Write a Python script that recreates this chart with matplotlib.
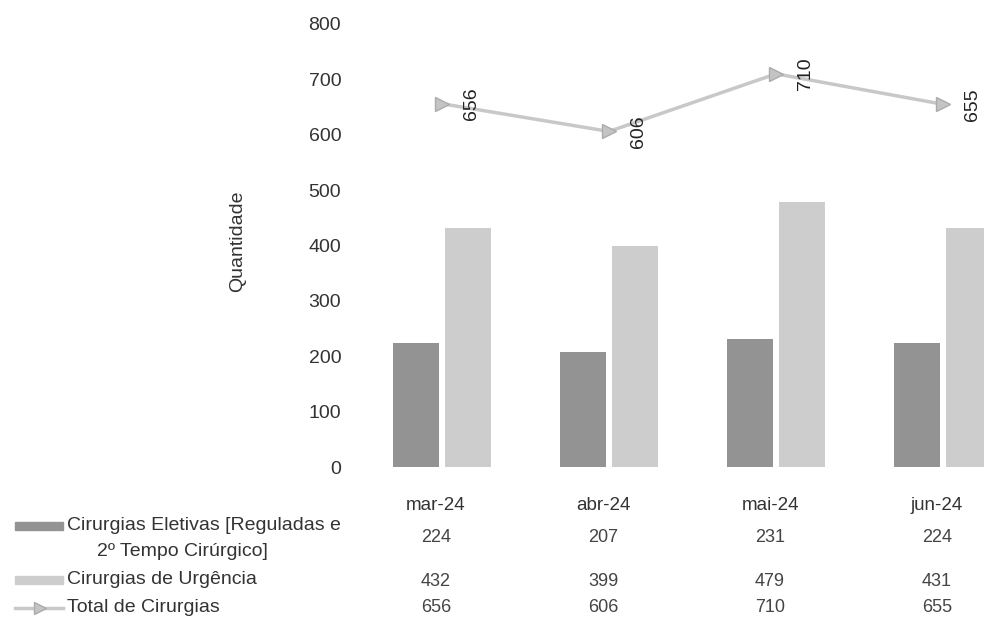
import numpy as np
import matplotlib
matplotlib.use("Agg")
import matplotlib.pyplot as plt
from matplotlib import transforms
from matplotlib.patches import Rectangle
from matplotlib.lines import Line2D

plt.rcParams['font.family'] = ['Liberation Sans', 'DejaVu Sans']

meses = ['mar-24', 'abr-24', 'mai-24', 'jun-24']
eletivas = [224, 207, 231, 224]
urgencia = [432, 399, 479, 431]
total = [656, 606, 710, 655]
series_nomes = ['Cirurgias Eletivas [Reguladas e', 'Cirurgias de Urgência', 'Total de Cirurgias']
nome_linha2 = '2º Tempo Cirúrgico]'

cor_elet = '#939393'
cor_urg = '#cdcdcd'
cor_tot = '#c8c8c8'
cor_txt = '#333333'

W, H = 984, 631
fig = plt.figure(figsize=(W / 100, H / 100), dpi=100)
ax = fig.add_axes([358.5 / W, (H - 467) / H, (W - 358.5) / W, 443 / H])

x = np.arange(len(meses))
bw = 0.277
ax.bar(x - 0.155, eletivas, width=bw, color=cor_elet)
ax.bar(x + 0.155, urgencia, width=bw, color=cor_urg)
ax.plot(x, total, color=cor_tot, lw=2.5, marker='>', ms=10,
        mfc='#c4c4c4', mec='#ababab', mew=1)

for xi, v in zip(x, total):
    ax.annotate(str(v), (xi, v), xytext=(21, 0), textcoords='offset points',
                rotation=90, ha='center', va='center', fontsize=14, color='#222222')

ax.set_xlim(-0.5, 3.245)
ax.set_ylim(0, 800)
ax.set_xticks([])
ax.set_yticks(range(0, 801, 100))
ax.tick_params(axis='y', length=0, pad=12.5, labelsize=14, labelcolor=cor_txt)
for s in ax.spines.values():
    s.set_visible(False)
ax.set_ylabel('Quantidade', fontsize=14, color=cor_txt)
ax.yaxis.set_label_coords(-0.18, 0.51)

# tabela de dados abaixo do grafico
col = transforms.offset_copy(
    transforms.blended_transform_factory(ax.transData, fig.transFigure),
    fig=fig, x=-6, y=0, units='dots')
linhas_y = [1 - 505 / H, 1 - 538 / H, 1 - 582 / H, 1 - 608 / H]
for xi, m in zip(x, meses):
    ax.text(xi, linhas_y[0], m, transform=col, ha='center', va='center',
            fontsize=13.5, color=cor_txt)
for row, vals in enumerate([eletivas, urgencia, total]):
    for xi, v in zip(x, vals):
        ax.text(xi, linhas_y[row + 1], str(v), transform=col, ha='center',
                va='center', fontsize=13, color='#444444')

tx = 67 / W
fig.text(tx, 1 - 526 / H, series_nomes[0], ha='left', va='center', fontsize=14, color=cor_txt)
fig.text(182 / W, 1 - 551 / H, nome_linha2, ha='center', va='center', fontsize=14, color=cor_txt)
fig.text(tx, 1 - 580 / H, series_nomes[1], ha='left', va='center', fontsize=14, color=cor_txt)
fig.text(tx, 1 - 608 / H, series_nomes[2], ha='left', va='center', fontsize=14, color=cor_txt)

fig.patches.append(Rectangle((15 / W, 1 - 530 / H), 48 / W, 8 / H,
                             transform=fig.transFigure, color=cor_elet))
fig.patches.append(Rectangle((15 / W, 1 - 584 / H), 48 / W, 8 / H,
                             transform=fig.transFigure, color=cor_urg))
fig.lines.append(Line2D([15 / W, 63 / W], [1 - 608 / H, 1 - 608 / H],
                        transform=fig.transFigure, color=cor_tot, lw=2.5))
fig.lines.append(Line2D([40 / W], [1 - 608 / H], transform=fig.transFigure,
                        marker='>', ms=9, color='#c4c4c4', mec='#ababab'))

fig.savefig('out.png', dpi=100)
